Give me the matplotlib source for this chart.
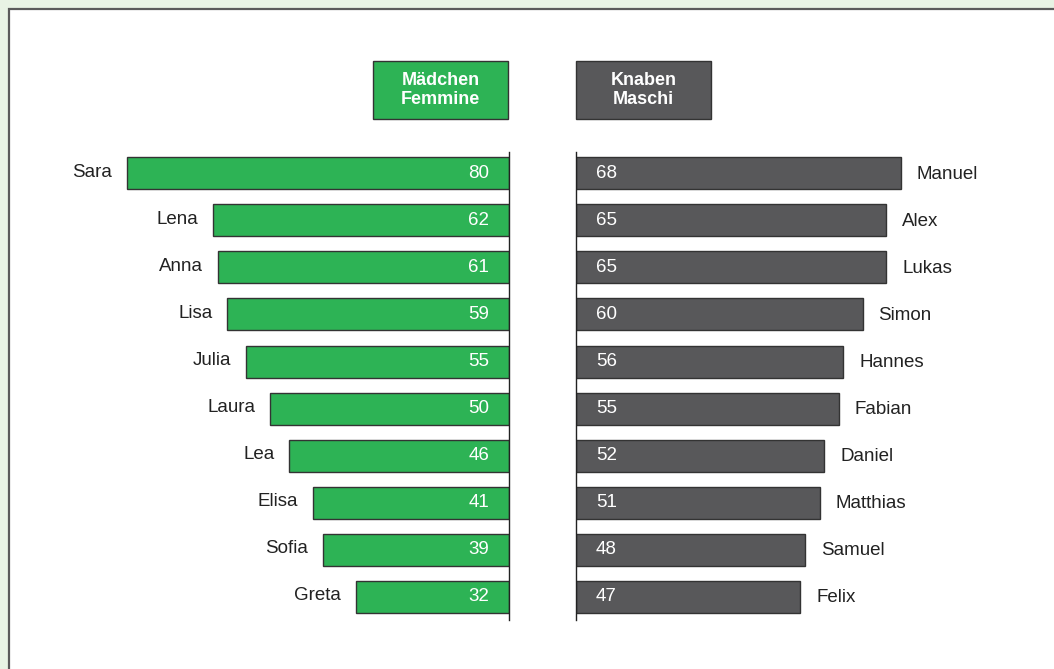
import matplotlib
matplotlib.use("Agg")
import matplotlib.pyplot as plt
from matplotlib.patches import Rectangle

plt.rcParams['font.family'] = ['Liberation Sans', 'DejaVu Sans']

# Daten
maedchen_namen = ["Sara", "Lena", "Anna", "Lisa", "Julia", "Laura", "Lea", "Elisa", "Sofia", "Greta"]
maedchen_werte = [80, 62, 61, 59, 55, 50, 46, 41, 39, 32]
knaben_namen = ["Manuel", "Alex", "Lukas", "Simon", "Hannes", "Fabian", "Daniel", "Matthias", "Samuel", "Felix"]
knaben_werte = [68, 65, 65, 60, 56, 55, 52, 51, 48, 47]
titel_links = "Mädchen\nFemmine"
titel_rechts = "Knaben\nMaschi"

W, H = 1054, 669
gruen = "#2db355"
grau = "#58585a"
rand = "#333333"
fs = 13.5

fig = plt.figure(figsize=(W / 100, H / 100), dpi=100)
fig.patch.set_facecolor("#e8f3e4")

def fx(px):
    return px / W

def fy(py):
    return 1 - py / H

# weisses Panel (hinter allem)
fig.patches.append(Rectangle((fx(8.5), fy(H + 10)), fx(W + 10), (H + 1) / H,
                             transform=fig.transFigure, facecolor="white",
                             edgecolor="#5a5a5a", lw=1.6, zorder=-10))

skala = 4.775  # px pro Einheit
y_oben, y_unten = 152, 620
ylim = (9.49, -0.45)

# linke Achse (Mädchen)
x0_links = 509
ax_l = fig.add_axes([fx(60), fy(y_unten), fx(x0_links - 60), (y_unten - y_oben) / H])
ax_l.set_xlim((x0_links - 60) / skala, 0)
ax_l.set_ylim(*ylim)
pos = list(range(len(maedchen_namen)))
ax_l.barh(pos, maedchen_werte, height=0.68, color=gruen, edgecolor=rand, lw=1)
for i, (n, v) in enumerate(zip(maedchen_namen, maedchen_werte)):
    ax_l.text(v + 15 / skala, i - 0.02, n, ha="right", va="center", fontsize=fs, color="#222222")
    ax_l.text(20 / skala, i, str(v), ha="right", va="center", fontsize=fs, color="white")
ax_l.axvline(0, color="#222222", lw=1, clip_on=False)
ax_l.axis("off")

# rechte Achse (Knaben)
x0_rechts = 576
ax_r = fig.add_axes([fx(x0_rechts), fy(y_unten), fx(1040 - x0_rechts), (y_unten - y_oben) / H])
ax_r.set_xlim(0, (1040 - x0_rechts) / skala)
ax_r.set_ylim(*ylim)
ax_r.barh(pos, knaben_werte, height=0.68, color=grau, edgecolor=rand, lw=1)
for i, (n, v) in enumerate(zip(knaben_namen, knaben_werte)):
    ax_r.text(v + 16 / skala, i + 0.02, n, ha="left", va="center", fontsize=fs, color="#222222")
    ax_r.text(20 / skala, i, str(v), ha="left", va="center", fontsize=fs, color="white")
ax_r.axvline(0, color="#222222", lw=1, clip_on=False)
ax_r.axis("off")

# Kopfzeilen-Boxen
for x_l, farbe, txt in [(373, gruen, titel_links), (576, grau, titel_rechts)]:
    fig.patches.append(Rectangle((fx(x_l), fy(119)), fx(135), 58 / H,
                                 transform=fig.transFigure, facecolor=farbe,
                                 edgecolor=rand, lw=1, zorder=1))
    fig.text(fx(x_l + 67.5), fy(90), txt, ha="center", va="center", fontsize=13,
             fontweight="bold", color="white", linespacing=1.15, zorder=2)

fig.savefig("out.png", dpi=100, facecolor=fig.get_facecolor())
